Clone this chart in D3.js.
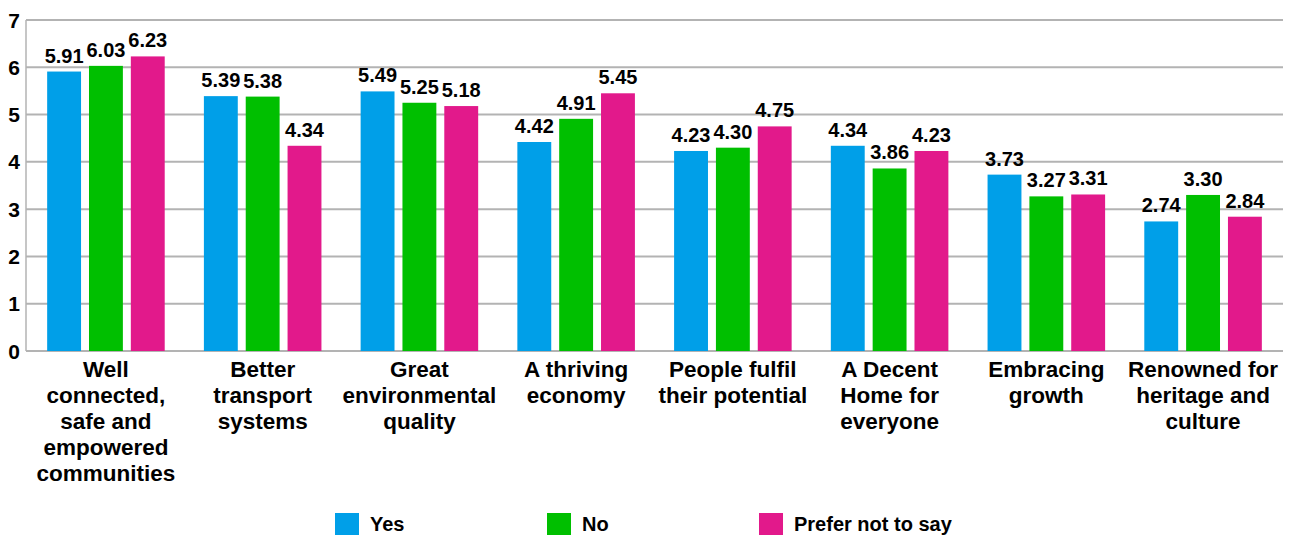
<!DOCTYPE html>
<html><head><meta charset="utf-8">
<script src="https://cdn.jsdelivr.net/npm/d3@7"></script>
<style>body{margin:0;background:#fff}svg{display:block;font-family:"Liberation Sans",Arial,sans-serif}</style>
</head><body><svg id="c" width="1293" height="535"></svg>
<script>
const categories = [
  ["Well","connected,","safe and","empowered","communities"],
  ["Better","transport","systems"],
  ["Great","environmental","quality"],
  ["A thriving","economy"],
  ["People fulfil","their potential"],
  ["A Decent","Home for","everyone"],
  ["Embracing","growth"],
  ["Renowned for","heritage and","culture"]
];
const seriesNames = ["Yes","No","Prefer not to say"];
const yesValues = [5.91,5.39,5.49,4.42,4.23,4.34,3.73,2.74];
const noValues = [6.03,5.38,5.25,4.91,4.30,3.86,3.27,3.30];
const preferValues = [6.23,4.34,5.18,5.45,4.75,4.23,3.31,2.84];
const yTicks = [0,1,2,3,4,5,6,7];
const colors = ["#009fe8","#00bf00","#e2198b"];
const values = [yesValues,noValues,preferValues];

const svg = d3.select("#c");
const pLeft = 26, pRight = 1283, pTop = 20, pBottom = 351;
const y = d3.scaleLinear().domain([0,7]).range([pBottom,pTop]);
const x0 = d3.scaleBand().domain(d3.range(categories.length)).range([pLeft,pRight]).paddingInner(0.25).paddingOuter(0.135);
const x1 = d3.scaleBand().domain(d3.range(3)).range([0,x0.bandwidth()]).paddingInner(0.19);

// grid
svg.append("g").selectAll("line").data(yTicks).join("line")
  .attr("x1",pLeft).attr("x2",pRight).attr("y1",d=>y(d)).attr("y2",d=>y(d))
  .attr("stroke","#b3b3b3").attr("stroke-width",2);
svg.append("line").attr("x1",pLeft).attr("x2",pLeft).attr("y1",pTop).attr("y2",pBottom)
  .attr("stroke","#b3b3b3").attr("stroke-width",1.5);
svg.append("g").selectAll("text").data(yTicks).join("text")
  .attr("x",20).attr("y",d=>y(d)+7.5).attr("text-anchor","end")
  .attr("font-size",21).attr("font-weight","bold").attr("fill","#000").text(d=>d);

// bars
const g = svg.append("g");
categories.forEach((c,i)=>{
  values.forEach((vals,s)=>{
    const xx = x0(i)+x1(s);
    g.append("rect").attr("x",xx).attr("y",y(vals[i])).attr("width",x1.bandwidth())
      .attr("height",y(0)-y(vals[i])).attr("fill",colors[s]);
    g.append("text").attr("x",xx+x1.bandwidth()/2).attr("y",y(vals[i])-9)
      .attr("text-anchor","middle").attr("font-size",20).attr("font-weight","bold")
      .text(vals[i].toFixed(2));
  });
  const t = svg.append("text").attr("x",x0(i)+x0.bandwidth()/2).attr("y",377)
    .attr("text-anchor","middle").attr("font-size",22.5).attr("font-weight","bold");
  c.forEach((line,k)=>t.append("tspan").attr("x",x0(i)+x0.bandwidth()/2).attr("dy",k?26:0).text(line));
});

// legend
const lx = [335,547,759];
seriesNames.forEach((n,s)=>{
  svg.append("rect").attr("x",lx[s]).attr("y",513).attr("width",24).attr("height",23).attr("fill",colors[s]);
  svg.append("text").attr("x",lx[s]+35).attr("y",531).attr("font-size",20).attr("font-weight","bold").text(n);
});
</script></body></html>
